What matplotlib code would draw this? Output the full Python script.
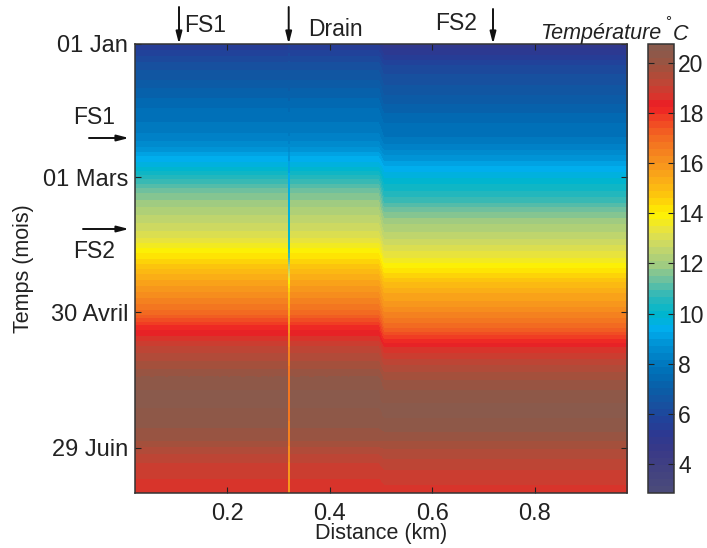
import numpy as np
import matplotlib
matplotlib.use("Agg")
import matplotlib.pyplot as plt
from matplotlib.colors import LinearSegmentedColormap, ListedColormap

plt.rcParams['font.family'] = ['Liberation Sans', 'DejaVu Sans']

# ---- data ----
days = [0, 5, 10, 15, 20, 25, 30, 35, 40, 45, 50, 55, 60, 65, 70, 75, 80, 85, 90, 95,
        100, 105, 110, 115, 120, 125, 130, 135, 140, 145, 150, 155, 160, 165, 170, 175,
        180, 185, 190, 195, 200]
temp_upstream = [5.3, 5.9, 6.4, 6.7, 7.1, 7.4, 7.7, 7.9, 8.2, 8.6, 9.3, 9.9, 10.7, 11.4,
                 11.9, 12.3, 12.7, 13.1, 13.7, 14.3, 14.9, 15.5, 16.0, 16.5, 17.1, 18.0,
                 18.6, 19.2, 19.6, 20.0, 20.4, 20.5, 20.5, 20.4, 20.2, 20.0, 19.5, 19.1,
                 18.9, 18.7, 18.6]
temp_downstream = [4.9, 5.4, 6.0, 6.3, 6.6, 6.9, 7.3, 7.6, 7.8, 8.2, 8.8, 9.4, 9.9, 10.4,
                   10.9, 11.6, 12.1, 12.5, 13.0, 13.5, 14.1, 14.8, 15.4, 15.8, 16.4, 17.0,
                   17.8, 18.6, 19.1, 19.6, 20.0, 20.3, 20.5, 20.5, 20.3, 20.0, 19.6, 19.3,
                   19.0, 18.8, 18.7]
temp_drain = [5.6, 6.0, 6.4, 6.7, 7.0, 7.3, 7.6, 7.9, 8.1, 8.5, 8.9, 9.2, 9.4, 9.6,
              9.7, 9.8, 9.9, 10.0, 10.3, 11.0, 12.5, 13.8, 14.6, 15.0, 15.4, 15.8,
              16.1, 16.3, 16.5, 16.6, 16.7, 16.7, 16.7, 16.6, 16.5, 16.4, 16.2, 16.0,
              15.9, 15.8, 15.7]
x_min, x_max = 0.02, 0.98
x_step = 0.5          # km, change of section
x_drain = 0.321       # km
month_ticks = [0, 59, 119, 179]
month_labels = ['01 Jan', '01 Mars', '30 Avril', '29 Juin']
dist_ticks = [0.2, 0.4, 0.6, 0.8]
cbar_ticks = [4, 6, 8, 10, 12, 14, 16, 18, 20]
vmin, vmax = 2.85, 20.75

# ---- colormap ----
anchors = [(2.85, '#4a4a7a'), (3.5, '#434380'), (4.3, '#3a3a86'), (5.0, '#2e3890'),
           (5.6, '#22419a'), (6.2, '#18509f'), (6.9, '#0a5ea8'), (7.6, '#006eb6'),
           (8.2, '#0080c6'), (8.8, '#0094d6'), (9.35, '#00aeef'), (10.0, '#00b6cc'),
           (10.7, '#30b8b8'), (11.3, '#6cc0a0'), (12.0, '#a2cc80'), (12.7, '#c8d868'),
           (13.3, '#e6e245'), (14.0, '#fff200'), (14.7, '#fdc80c'), (15.3, '#fbb016'),
           (16.0, '#f7941d'), (16.7, '#f47c20'), (17.3, '#f26222'), (18.0, '#f03a24'),
           (18.4, '#ed1c24'), (18.8, '#d8352c'), (19.3, '#c04535'), (20.0, '#a0523e'),
           (20.4, '#905848'), (20.75, '#8a5a4c')]
base = LinearSegmentedColormap.from_list(
    'temp', [((v - vmin) / (vmax - vmin), c) for v, c in anchors])
cmap = ListedColormap(base(np.linspace(0, 1, 64)))

# ---- field ----
ncol = 96
xc = x_min + (np.arange(ncol) + 0.5) * (x_max - x_min) / ncol
up = np.array(temp_upstream)
down = np.array(temp_downstream)
Z = np.where(xc[None, :] < x_step, up[:, None], down[:, None])
dd = days[1] - days[0]
ext_y0 = days[0] - dd / 2
ext_y1 = days[-1] + dd / 2

W, H = 707, 548
fig = plt.figure(figsize=(W / 100, H / 100), dpi=100)
L, R, T, B = 135, 627, 44, 493
ax = fig.add_axes([L / W, (H - B) / H, (R - L) / W, (B - T) / H])
im = ax.imshow(Z, cmap=cmap, vmin=vmin, vmax=vmax, aspect='auto',
               extent=(x_min, x_max, ext_y1, ext_y0), interpolation='bilinear',
               interpolation_stage='data')
Zd = np.array(temp_drain)[:, None]
ax.imshow(Zd, cmap=cmap, vmin=vmin, vmax=vmax, aspect='auto',
          extent=(x_drain - 0.0015, x_drain + 0.0015, ext_y1, ext_y0),
          interpolation='bilinear', interpolation_stage='data')
ax.set_xlim(x_min, x_max)
ax.set_ylim(199, 0)
ax.set_xticks(dist_ticks)
ax.set_xticklabels([f'{t:.1f}' for t in dist_ticks])
ax.set_yticks(month_ticks)
ax.set_yticklabels(month_labels)
ax.tick_params(direction='in', length=4, width=0.8, top=True, right=True,
               labelsize=17, colors='#222222', pad=5)
ax.tick_params(axis='x', pad=7)
for s in ax.spines.values():
    s.set_linewidth(1.1)
    s.set_color('#333333')

ax.set_xlabel('Distance (km)', fontsize=15.5, color='#222222')
ax.xaxis.set_label_coords((381.5 - L) / (R - L), (B - 533) / (B - T))
ax.xaxis.label.set_va('center')
ax.set_ylabel('Temps (mois)', fontsize=15.5, color='#222222')
ax.yaxis.set_label_coords((24 - L) / (R - L), (B - 269) / (B - T))
ax.yaxis.label.set_va('center')

# ---- colorbar ----
cax = fig.add_axes([648 / W, (H - B) / H, 26 / W, (B - T) / H])
cb = fig.colorbar(im, cax=cax, ticks=cbar_ticks)
cb.outline.set_linewidth(1.1)
cb.outline.set_edgecolor('#333333')
cax.tick_params(direction='in', length=4, width=0.8, left=True, right=True,
                labelleft=False, labelright=True, labelsize=16.5, colors='#222222', pad=3)

def fy(y):
    return H - y

tc = '#222222'
fig.text(540, fy(34), 'Température', fontsize=15.5, style='italic', color=tc,
         ha='left', va='center', transform=None)
fig.text(665, fy(22), '°', fontsize=11, color=tc, ha='left', va='center', transform=None)
fig.text(673, fy(34), 'C', fontsize=15.5, style='italic', color=tc,
         ha='left', va='center', transform=None)

aprops = dict(arrowstyle='-|>,head_length=0.7,head_width=0.18', color='#111111',
              lw=1.4, shrinkA=0, shrinkB=0)
# top arrows
for xp, y0 in [(179, 7), (288.7, 7), (493, 9)]:
    ax.annotate('', xy=(xp, fy(44)), xytext=(xp, fy(y0)), xycoords='figure pixels',
                textcoords='figure pixels', arrowprops=aprops, annotation_clip=False)
fig.text(184, fy(26), 'FS1', fontsize=16.5, color=tc, ha='left', va='center', transform=None)
fig.text(308, fy(29), 'Drain', fontsize=16.5, color=tc, ha='left', va='center', transform=None)
fig.text(435, fy(24), 'FS2', fontsize=16.5, color=tc, ha='left', va='center', transform=None)
# left arrows
for x0, yp in [(89, 138), (83, 229)]:
    ax.annotate('', xy=(129, fy(yp)), xytext=(x0, fy(yp)), xycoords='figure pixels',
                textcoords='figure pixels', arrowprops=aprops, annotation_clip=False)
fig.text(73, fy(118), 'FS1', fontsize=16.5, color=tc, ha='left', va='center', transform=None)
fig.text(73, fy(251), 'FS2', fontsize=16.5, color=tc, ha='left', va='center', transform=None)

fig.savefig('out.png', dpi=100)
